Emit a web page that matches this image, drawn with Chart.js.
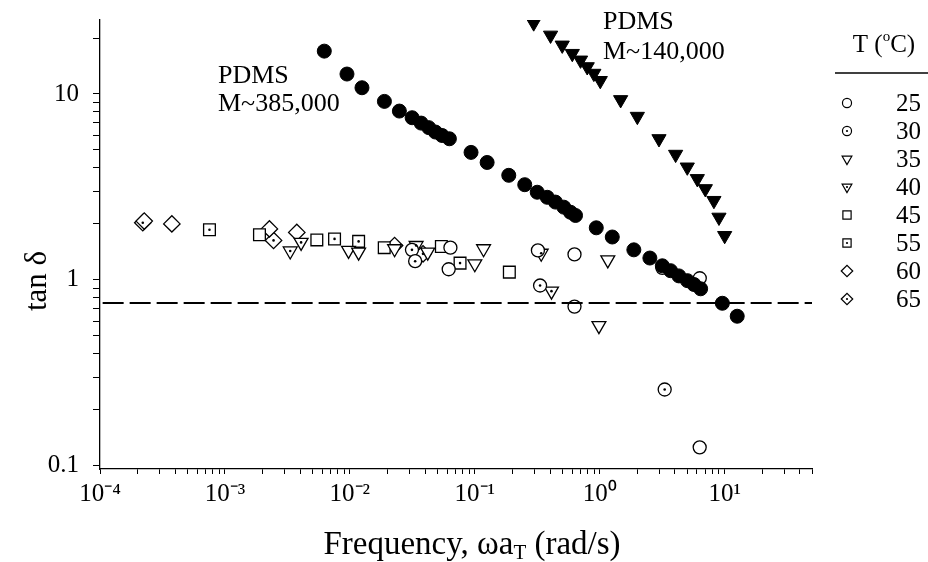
<!DOCTYPE html>
<html>
<head>
<meta charset="utf-8">
<script src="https://cdn.jsdelivr.net/npm/chart.js@4.4.0/dist/chart.umd.min.js"></script>
<style>
  body { margin: 0; background: #fff; }
  #wrap { width: 928px; height: 562px; position: relative; }
</style>
</head>
<body>
<div id="wrap"><canvas id="chart"></canvas></div>
<script>
// PDMS M~385,000 (filled circles)
const freqM385 = [0.00624, 0.00948, 0.0125, 0.0189, 0.0249, 0.0315, 0.0372, 0.0428, 0.0484, 0.0547, 0.0626,
  0.0933, 0.1255, 0.187, 0.251, 0.316, 0.380, 0.442, 0.516, 0.583, 0.640,
  0.938, 1.26, 1.875, 2.52, 3.17, 3.69, 4.30, 5.03, 5.68, 6.42, 9.58, 12.6];
const tanM385 = [17.0, 12.8, 10.8, 9.12, 8.09, 7.45, 6.97, 6.59, 6.24, 5.98, 5.74,
  4.85, 4.28, 3.65, 3.25, 2.96, 2.78, 2.62, 2.46, 2.31, 2.22,
  1.905, 1.70, 1.45, 1.31, 1.19, 1.12, 1.05, 0.99, 0.944, 0.895, 0.748, 0.637];

// PDMS M~140,000 (filled triangles)
const freqM140 = [0.296, 0.404, 0.501, 0.603, 0.702, 0.794, 0.897, 1.01, 1.47, 2.0, 2.98, 4.05, 5.02, 6.04, 7.0, 8.2, 9.0, 10.0];
const tanM140 = [24.1, 20.7, 18.3, 16.5, 15.2, 14.0, 12.9, 11.8, 9.31, 7.57, 5.74, 4.73, 4.04, 3.50, 3.09, 2.67, 2.17, 1.73];

// open symbols, one pair per temperature
const f25 = [0.0638, 0.0618, 0.320, 0.628, 0.628, 3.17, 6.32, 6.31];
const t25 = [1.49, 1.14, 1.44, 1.37, 0.718, 1.16, 1.02, 0.1255];
const f30 = [0.0314, 0.0333, 0.333, 3.31];
const t30 = [1.45, 1.26, 0.932, 0.257];
const f35 = [0.00976, 0.01175, 0.0228, 0.042, 0.100, 0.1175, 1.16, 0.985];
const t35 = [1.44, 1.41, 1.47, 1.41, 1.22, 1.47, 1.28, 0.567];
const f40 = [0.00333, 0.00407, 0.0339, 0.340, 0.411];
const t40 = [1.43, 1.59, 1.53, 1.39, 0.869];
const f45 = [0.00189, 0.00544, 0.01884, 0.054, 0.189];
const t45 = [1.75, 1.64, 1.49, 1.51, 1.10];
const f55 = [0.000752, 0.00754, 0.01175, 0.0762];
const t55 = [1.86, 1.66, 1.61, 1.23];
const f60 = [0.000226, 0.000376, 0.00227, 0.00376, 0.0228];
const t60 = [2.07, 2.00, 1.88, 1.80, 1.53];
const f65 = [0.00022, 0.00245, 0.0385];
const t65 = [2.03, 1.63, 1.38];

const tempLabels = ['25', '30', '35', '40', '45', '55', '60', '65'];
const refLine = 0.75;
const xRange = [1e-4, 50];
const yRange = [0.096, 25];
const xDecades = [-4, -3, -2, -1, 0, 1];
const yDecades = [-1, 0, 1];

const FONT = '"Liberation Serif", "Times New Roman", serif';
Chart.defaults.font.family = FONT;
Chart.defaults.color = '#000';

function pts(xs, ys) {
  return xs.map((x, i) => ({ x: x, y: ys[i] }));
}

// marker look for each temperature
const openStyles = [
  { style: 'circle', r: 6.5, rot: 0, dot: false },
  { style: 'circle', r: 6.5, rot: 0, dot: true },
  { style: 'triangle', r: 8, rot: 180, dot: false },
  { style: 'triangle', r: 8, rot: 180, dot: true },
  { style: 'rect', r: 8.3, rot: 0, dot: false },
  { style: 'rect', r: 8.3, rot: 0, dot: true },
  { style: 'rectRot', r: 8.2, rot: 0, dot: false },
  { style: 'rectRot', r: 8.2, rot: 0, dot: true }
];
const openData = [pts(f25, t25), pts(f30, t30), pts(f35, t35), pts(f40, t40),
  pts(f45, t45), pts(f55, t55), pts(f60, t60), pts(f65, t65)];

const datasets = [
  {
    label: 'M~385,000', data: pts(freqM385, tanM385),
    pointStyle: 'circle', pointRadius: 7, backgroundColor: '#000', borderColor: '#000', borderWidth: 1
  },
  {
    label: 'M~140,000', data: pts(freqM140, tanM140),
    pointStyle: 'triangle', pointRotation: 180, pointRadius: 8.2, backgroundColor: '#000', borderColor: '#000', borderWidth: 1
  },
  {
    type: 'line', label: 'ref', data: [{ x: 1.05e-4, y: refLine }, { x: xRange[1], y: refLine }],
    borderColor: '#000', borderWidth: 2, borderDash: [21, 6], pointRadius: 0, fill: false
  }
];
openData.forEach((d, i) => {
  const s = openStyles[i];
  datasets.push({
    label: tempLabels[i], data: d, dot: s.dot,
    pointStyle: s.style, pointRotation: s.rot, pointRadius: s.r,
    backgroundColor: '#fff', borderColor: '#000', borderWidth: 1.3
  });
});

function logTicks(decades, max) {
  const out = [];
  decades.forEach(e => {
    for (let k = 1; k <= 9; k++) out.push(k * Math.pow(10, e));
  });
  return out.filter(v => v <= max * 1.0001);
}
function isDecade(v) {
  const l = Math.log10(v);
  return Math.abs(l - Math.round(l)) < 1e-9;
}
const sup = { '-': '\u207B', '0': '\u2070', '1': '\u00B9', '2': '\u00B2', '3': '\u00B3', '4': '\u2074' };

// dots inside the dotted symbols
const dotPlugin = {
  id: 'dots',
  afterDatasetsDraw(chart) {
    const ctx = chart.ctx;
    ctx.save();
    ctx.fillStyle = '#000';
    chart.data.datasets.forEach((ds, i) => {
      if (!ds.dot) return;
      chart.getDatasetMeta(i).data.forEach(el => {
        ctx.beginPath();
        ctx.arc(el.x, el.y, 1.3, 0, Math.PI * 2);
        ctx.fill();
      });
    });
    ctx.restore();
  }
};

// text: axis titles, annotations, temperature legend
const textPlugin = {
  id: 'texts',
  afterDraw(chart) {
    const ctx = chart.ctx;
    ctx.save();
    ctx.fillStyle = '#000';
    ctx.strokeStyle = '#000';
    ctx.textBaseline = 'alphabetic';

    // x title with subscript T
    const big = '33px ' + FONT, small = '21px ' + FONT;
    const p1 = 'Frequency, \u03C9a', p2 = 'T', p3 = ' (rad/s)';
    ctx.font = big; const w1 = ctx.measureText(p1).width, w3 = ctx.measureText(p3).width;
    ctx.font = small; const w2 = ctx.measureText(p2).width;
    let x = 472 - (w1 + w2 + w3) / 2;
    const base = 554;
    ctx.textAlign = 'left';
    ctx.font = big; ctx.fillText(p1, x, base); x += w1;
    ctx.font = small; ctx.fillText(p2, x, base + 5); x += w2;
    ctx.font = big; ctx.fillText(p3, x, base);

    // y title, placed level with the "1" tick as in the original
    ctx.save();
    ctx.translate(38, 281);
    ctx.rotate(-Math.PI / 2);
    ctx.textAlign = 'center';
    ctx.textBaseline = 'middle';
    ctx.font = '31px ' + FONT;
    ctx.fillText('tan \u03B4', 0, 0);
    ctx.restore();

    // annotations
    ctx.font = '26px ' + FONT;
    ctx.textBaseline = 'middle';
    ctx.fillText('PDMS', 218, 76);
    ctx.fillText('M~385,000', 218, 104);
    ctx.fillText('PDMS', 603, 22);
    ctx.fillText('M~140,000', 603, 52);

    // legend header T (oC)
    ctx.font = '25px ' + FONT;
    const h1 = 'T (', h3 = 'C)';
    const a = ctx.measureText(h1).width, c = ctx.measureText(h3).width;
    ctx.font = '15px ' + FONT;
    const b = ctx.measureText('o').width;
    let hx = 884 - (a + b + c) / 2;
    ctx.font = '25px ' + FONT; ctx.fillText(h1, hx, 45); hx += a;
    ctx.font = '15px ' + FONT; ctx.fillText('o', hx, 37); hx += b;
    ctx.font = '25px ' + FONT; ctx.fillText(h3, hx, 45);
    ctx.lineWidth = 1.5;
    ctx.beginPath(); ctx.moveTo(835, 73); ctx.lineTo(928, 73); ctx.stroke();

    // legend rows
    ctx.textAlign = 'right';
    tempLabels.forEach((lab, i) => {
      const y = 103 + 28 * i;
      const s = openStyles[i];
      ctx.fillStyle = '#fff';
      ctx.strokeStyle = '#000';
      ctx.lineWidth = 1.2;
      Chart.helpers.drawPoint(ctx, { pointStyle: s.style, rotation: s.rot, radius: s.r * 0.7, borderWidth: 1.2 }, 847, y);
      ctx.fillStyle = '#000';
      if (s.dot) { ctx.beginPath(); ctx.arc(847, y, 1.1, 0, Math.PI * 2); ctx.fill(); }
      ctx.font = '25px ' + FONT;
      ctx.fillText(lab, 921, y + 1);
    });
    ctx.restore();
  }
};

new Chart(document.getElementById('chart'), {
  type: 'scatter',
  data: { datasets: datasets },
  options: {
    responsive: true,
    maintainAspectRatio: false,
    animation: false,
    layout: { padding: { left: 10, right: 116, top: 20, bottom: 0 } },
    plugins: { legend: { display: false }, tooltip: { enabled: false } },
    elements: { point: { hoverRadius: 0 } },
    scales: {
      x: {
        type: 'logarithmic',
        min: xRange[0], max: xRange[1],
        afterBuildTicks: s => { s.ticks = logTicks(xDecades, xRange[1]).map(v => ({ value: v })); },
        afterFit: s => { s.height = 93; s.paddingLeft = 0; s.paddingRight = 0; },
        border: { display: true, color: '#000', width: 1.3 },
        grid: { display: true, drawOnChartArea: false, drawTicks: true, tickLength: 5, color: '#000', lineWidth: 1 },
        ticks: {
          autoSkip: false, maxRotation: 0, padding: 5,
          font: { size: 25 },
          callback: v => {
            if (!isDecade(v)) return '';
            const e = String(Math.round(Math.log10(v)));
            return '10' + e.split('').map(ch => sup[ch]).join('');
          }
        }
      },
      y: {
        type: 'logarithmic',
        min: yRange[0], max: yRange[1],
        afterBuildTicks: s => { s.ticks = logTicks(yDecades, yRange[1]).map(v => ({ value: v })); },
        afterFit: s => { s.width = 90; s.paddingTop = 0; s.paddingBottom = 0; },
        border: { display: true, color: '#000', width: 1.3 },
        grid: { display: true, drawOnChartArea: false, drawTicks: true, tickLength: 7, color: '#000', lineWidth: 1 },
        ticks: {
          autoSkip: false, padding: 14,
          font: { size: 25 },
          callback: v => {
            if (!isDecade(v)) return '';
            return String(Math.round(v * 10) / 10);
          }
        }
      }
    }
  },
  plugins: [dotPlugin, textPlugin]
});
</script>
</body>
</html>
